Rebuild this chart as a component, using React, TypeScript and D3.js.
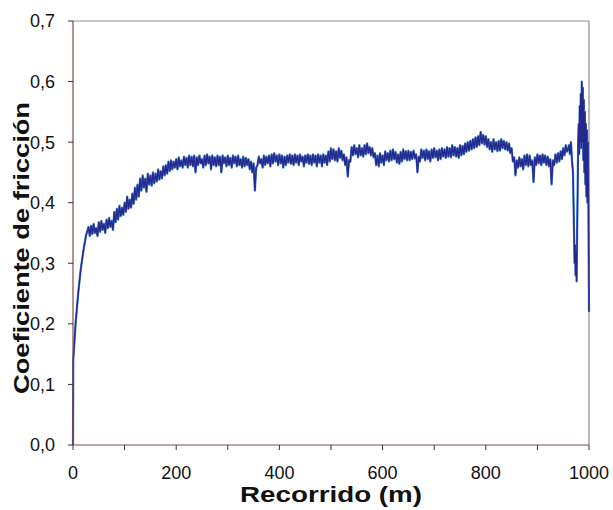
import React from "react";
import * as d3 from "d3";

// distance (m) and friction coefficient
const headDist = [0, 0.5, 5, 10, 15, 20, 25];
const headCoef = [0, 0.14, 0.2, 0.25, 0.29, 0.32, 0.345];

const bodyStart = 30;
const bodyStep = 2.5;
const bodyCoef = [
  // 30 - 77.5
  0.36, 0.345, 0.362, 0.348, 0.365, 0.35, 0.358, 0.345, 0.368, 0.352, 0.37, 0.355, 0.365, 0.35, 0.372, 0.358, 0.375, 0.36, 0.37, 0.355,
  // 80 - 127.5
  0.385, 0.368, 0.39, 0.372, 0.395, 0.378, 0.392, 0.38, 0.4, 0.385, 0.41, 0.39, 0.405, 0.392, 0.415, 0.398, 0.425, 0.405, 0.43, 0.41,
  // 130 - 177.5
  0.44, 0.42, 0.445, 0.425, 0.44, 0.418, 0.448, 0.43, 0.445, 0.428, 0.45, 0.432, 0.448, 0.435, 0.455, 0.438, 0.452, 0.44, 0.46, 0.445,
  // 180 - 227.5
  0.462, 0.448, 0.468, 0.452, 0.47, 0.455, 0.468, 0.458, 0.472, 0.455, 0.475, 0.46, 0.47, 0.458, 0.476, 0.462, 0.474, 0.458, 0.478, 0.462,
  // 230 - 277.5
  0.476, 0.46, 0.478, 0.45, 0.475, 0.462, 0.478, 0.465, 0.472, 0.458, 0.478, 0.462, 0.48, 0.465, 0.476, 0.455, 0.478, 0.462, 0.475, 0.46,
  // 280 - 327.5
  0.478, 0.462, 0.476, 0.45, 0.478, 0.465, 0.475, 0.46, 0.478, 0.462, 0.474, 0.458, 0.478, 0.465, 0.476, 0.46, 0.478, 0.462, 0.472, 0.458,
  // 330 - 377.5
  0.476, 0.46, 0.474, 0.462, 0.472, 0.455, 0.468, 0.45, 0.465, 0.42, 0.458, 0.462, 0.476, 0.465, 0.472, 0.458, 0.478, 0.462, 0.476, 0.465,
  // 380 - 427.5
  0.478, 0.46, 0.48, 0.465, 0.482, 0.468, 0.478, 0.462, 0.48, 0.465, 0.478, 0.458, 0.476, 0.462, 0.478, 0.466, 0.48, 0.464, 0.478, 0.462,
  // 430 - 477.5
  0.48, 0.466, 0.478, 0.462, 0.48, 0.468, 0.476, 0.46, 0.478, 0.466, 0.48, 0.464, 0.478, 0.462, 0.48, 0.466, 0.478, 0.46, 0.48, 0.466,
  // 480 - 527.5
  0.478, 0.46, 0.48, 0.466, 0.478, 0.462, 0.485, 0.468, 0.49, 0.472, 0.488, 0.47, 0.485, 0.468, 0.49, 0.474, 0.486, 0.47, 0.48, 0.462,
  // 530 - 577.5
  0.475, 0.443, 0.47, 0.468, 0.492, 0.478, 0.495, 0.48, 0.49, 0.475, 0.495, 0.478, 0.49, 0.476, 0.495, 0.48, 0.498, 0.482, 0.492, 0.478,
  // 580 - 627.5
  0.49, 0.475, 0.482, 0.462, 0.478, 0.46, 0.482, 0.466, 0.478, 0.462, 0.485, 0.47, 0.482, 0.468, 0.486, 0.47, 0.488, 0.472, 0.484, 0.466,
  // 630 - 677.5
  0.48, 0.464, 0.484, 0.468, 0.488, 0.472, 0.485, 0.47, 0.486, 0.47, 0.484, 0.472, 0.486, 0.474, 0.48, 0.45, 0.476, 0.468, 0.488, 0.474,
  // 680 - 727.5
  0.486, 0.47, 0.488, 0.472, 0.485, 0.468, 0.488, 0.474, 0.49, 0.475, 0.486, 0.47, 0.488, 0.472, 0.49, 0.476, 0.488, 0.474, 0.492, 0.476,
  // 730 - 777.5
  0.49, 0.475, 0.495, 0.478, 0.492, 0.476, 0.49, 0.474, 0.495, 0.478, 0.494, 0.48, 0.498, 0.484, 0.5, 0.486, 0.502, 0.488, 0.505, 0.49,
  // 780 - 827.5
  0.508, 0.492, 0.51, 0.495, 0.517, 0.498, 0.512, 0.496, 0.51, 0.492, 0.505, 0.488, 0.5, 0.484, 0.505, 0.488, 0.5, 0.485, 0.502, 0.486,
  // 830 - 877.5
  0.505, 0.49, 0.502, 0.488, 0.5, 0.486, 0.498, 0.482, 0.49, 0.468, 0.475, 0.445, 0.47, 0.458, 0.475, 0.46, 0.472, 0.455, 0.478, 0.462,
  // 880 - 927.5
  0.48, 0.46, 0.478, 0.462, 0.47, 0.434, 0.475, 0.462, 0.48, 0.465, 0.478, 0.462, 0.48, 0.466, 0.478, 0.462, 0.476, 0.46, 0.472, 0.43,
  // 930 - 957.5
  0.47, 0.462, 0.48, 0.466, 0.482, 0.468, 0.485, 0.472, 0.49, 0.478, 0.495, 0.485,
];

const tailDist = [
  960, 961, 963, 965, 967, 969, 970, 971, 972, 973, 974, 975, 976, 977, 978,
  979, 980, 981, 982, 983, 984, 985, 986, 987, 988, 989, 990, 991, 992, 993,
  994, 995, 996, 997, 998, 999, 1000,
];
const tailCoef = [
  0.49, 0.495, 0.48, 0.5, 0.47, 0.45, 0.4, 0.35, 0.3, 0.33, 0.28, 0.32, 0.27,
  0.35, 0.42, 0.5, 0.53, 0.48, 0.56, 0.5, 0.58, 0.49, 0.6, 0.5, 0.59, 0.47,
  0.57, 0.45, 0.55, 0.43, 0.53, 0.41, 0.52, 0.4, 0.5, 0.38, 0.22,
];

const xTicks = [0, 100, 200, 300, 400, 500, 600, 700, 800, 900, 1000];
const xLabels = [0, 200, 400, 600, 800, 1000];
const yTicks = [0, 0.1, 0.2, 0.3, 0.4, 0.5, 0.6, 0.7];

const W = 613;
const H = 510;
const L = 73;
const R = 589;
const T = 21;
const B = 445;

export default function App() {
  const x = d3.scaleLinear().domain([0, 1000]).range([L, R]);
  const y = d3.scaleLinear().domain([0, 0.7]).range([B, T]);

  const pts: [number, number][] = [];
  headDist.forEach((d, i) => pts.push([d, headCoef[i]]));
  bodyCoef.forEach((c, i) => pts.push([bodyStart + i * bodyStep, c]));
  tailDist.forEach((d, i) => pts.push([d, tailCoef[i]]));

  const line = d3
    .line<[number, number]>()
    .x((d) => x(d[0]))
    .y((d) => y(d[1]));
  const path = line(pts) || "";

  const font = "'Liberation Sans', Arial, sans-serif";
  const axisCol = "#8b4848";
  const frameCol = "#8a8a8a";

  return (
    <svg
      width={W}
      height={H}
      style={{ position: "absolute", left: 0, top: 0, background: "#fff" }}
      fontFamily={font}
    >
      <rect x={0} y={0} width={W} height={H} fill="#fff" />
      {/* frame top/right */}
      <line x1={L} y1={T} x2={R} y2={T} stroke={frameCol} strokeWidth={1.2} />
      <line x1={R} y1={T} x2={R} y2={B} stroke={frameCol} strokeWidth={1.2} />

      {/* data */}
      <path d={path} fill="none" stroke="#3f78d0" strokeWidth={2.2} strokeLinejoin="round" />
      <path d={path} fill="none" stroke="#26288a" strokeWidth={1.3} strokeLinejoin="miter" />

      {/* axes */}
      <line x1={L} y1={T} x2={L} y2={B} stroke={axisCol} strokeWidth={1.2} />
      <line x1={L} y1={B} x2={R} y2={B} stroke={axisCol} strokeWidth={1.2} />

      {yTicks.map((t) => (
        <g key={"y" + t}>
          <line x1={L - 5} x2={L} y1={y(t)} y2={y(t)} stroke="#333" strokeWidth={1} />
          <text
            x={L - 18}
            y={y(t)}
            dy="0.36em"
            textAnchor="end"
            fontSize={18}
            fill="#111"
          >
            {t.toFixed(1).replace(".", ",")}
          </text>
        </g>
      ))}
      {xTicks.map((t) => (
        <line key={"x" + t} x1={x(t)} x2={x(t)} y1={B} y2={B + 5} stroke="#333" strokeWidth={1} />
      ))}
      {xLabels.map((t) => (
        <text key={"xl" + t} x={x(t)} y={479} textAnchor="middle" fontSize={18} fill="#111">
          {t}
        </text>
      ))}

      <text
        x={(L + R) / 2}
        y={502}
        textAnchor="middle"
        fontSize={22}
        fontWeight="bold"
        fill="#111"
        textLength={182}
        lengthAdjust="spacingAndGlyphs"
      >
        Recorrido (m)
      </text>
      <text
        transform={`translate(29, ${(T + B) / 2 + 15}) rotate(-90)`}
        textAnchor="middle"
        fontSize={22}
        fontWeight="bold"
        fill="#111"
        textLength={292}
        lengthAdjust="spacingAndGlyphs"
      >
        Coeficiente de fricción
      </text>
    </svg>
  );
}
